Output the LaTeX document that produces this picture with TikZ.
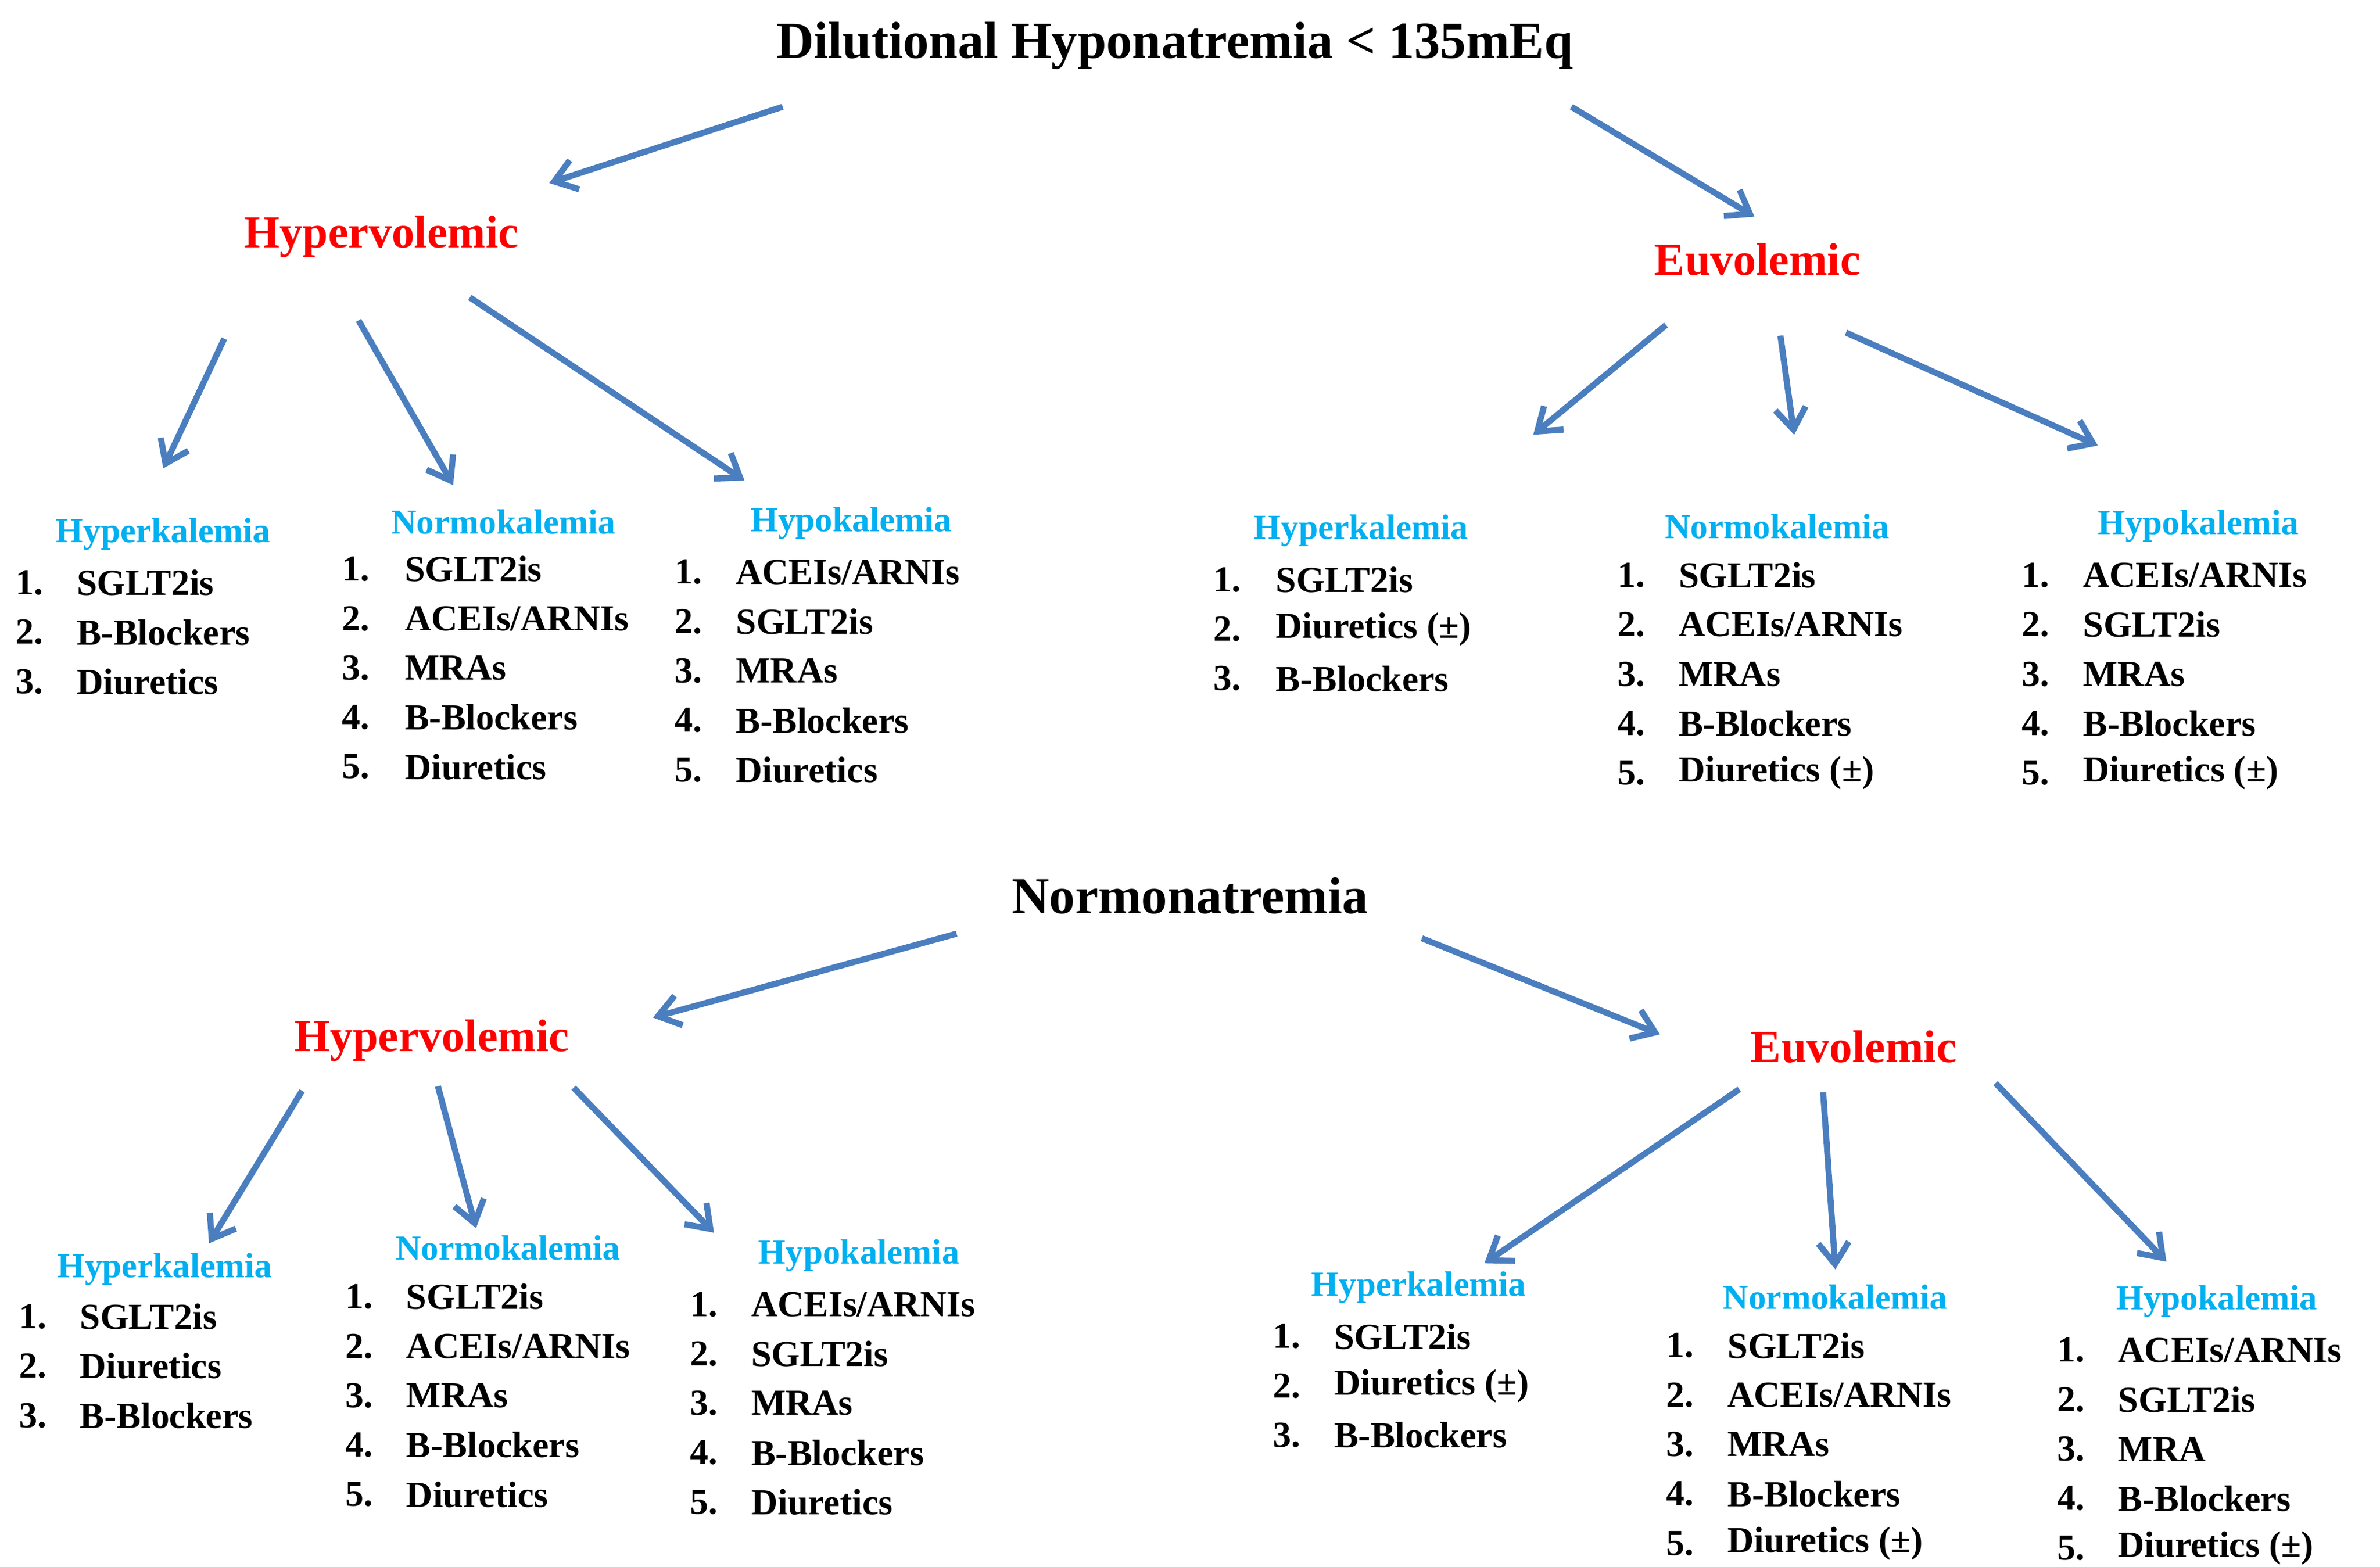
\documentclass[tikz,border=0pt]{standalone}
\usepackage{fontspec}
\setmainfont{Liberation Serif}
\usetikzlibrary{arrows.meta}
\definecolor{arr}{HTML}{4A7EBF}
\definecolor{cy}{HTML}{00B0F0}
\tikzset{
 title/.style={font=\bfseries\fontsize{17}{20}\selectfont},
 vol/.style={font=\bfseries\fontsize{15}{18}\selectfont,text=red},
 kal/.style={font=\bfseries\fontsize{11.5}{14}\selectfont,text=cy},
 item/.style={font=\bfseries\fontsize{12}{14}\selectfont,anchor=west,inner sep=0},
 conn/.style={draw=arr,line width=2pt,-{Straight Barb[length=7pt,width=10pt]}}
}
\newcommand{\mylist}[5]{% name, numx, textx, y0, items
 \foreach \t [count=\i] in {#5}{
  \node[item] (#1n\i) at (#2,{-(#4+(\i-1)*32.4)}) {\i.};
  \node[item] (#1t\i) at (#3,{-(#4+(\i-1)*32.4)}) {\t};
 }}
\newcommand{\myarrow}[5]{%
 \coordinate (#1a) at (#2,-#3); \coordinate (#1b) at (#4,-#5);
 \draw[conn] (#1a) -- (#1b);}
\begin{document}
\begin{tikzpicture}[x=0.5pt,y=0.5pt]
\useasboundingbox (0,0) rectangle (1560,-1027);
% top
\node[title] (t1) at (770,-30) {Dilutional Hyponatremia < 135mEq};
\myarrow{a1}{513}{70}{360}{120}
\myarrow{a2}{1030}{70}{1150}{142}
\node[vol] (hv1) at (250,-155) {Hypervolemic};
\node[vol] (ev1) at (1152,-170) {Euvolemic};
\myarrow{a3}{147}{222}{107}{307}
\myarrow{a4}{235}{210}{297}{318}
\myarrow{a5}{308}{195}{488}{315}
\myarrow{a6}{1092}{213}{1005}{285}
\myarrow{a7}{1167}{220}{1176}{285}
\myarrow{a8}{1210}{218}{1375}{292}
\node[kal] (k1) at (107,-350) {Hyperkalemia};
\node[kal] (k2) at (330,-342) {Normokalemia};
\node[kal] (k3) at (558,-343) {Hypokalemia};
\node[kal] (k4) at (892,-348) {Hyperkalemia};
\node[kal] (k5) at (1165,-345) {Normokalemia};
\node[kal] (k6) at (1441,-345) {Hypokalemia};
\mylist{l1}{10}{50}{382}{SGLT2is,B-Blockers,Diuretics}
\mylist{l2}{224}{265}{373}{SGLT2is,ACEIs/ARNIs,MRAs,B-Blockers,Diuretics}
\mylist{l3}{442}{482}{375}{ACEIs/ARNIs,SGLT2is,MRAs,B-Blockers,Diuretics}
\mylist{l4}{795}{836}{380}{SGLT2is,Diuretics (±),B-Blockers}
\mylist{l5}{1060}{1100}{377}{SGLT2is,ACEIs/ARNIs,MRAs,B-Blockers,Diuretics (±)}
\mylist{l6}{1325}{1365}{377}{ACEIs/ARNIs,SGLT2is,MRAs,B-Blockers,Diuretics (±)}
% bottom
\node[title] (t2) at (780,-587) {Normonatremia};
\myarrow{b1}{627}{612}{428}{667}
\myarrow{b2}{932}{615}{1088}{678}
\node[vol] (hv2) at (283,-682) {Hypervolemic};
\node[vol] (ev2) at (1215,-686) {Euvolemic};
\myarrow{b3}{198}{715}{137}{815}
\myarrow{b4}{287}{712}{312}{805}
\myarrow{b5}{376}{713}{468}{808}
\myarrow{b6}{1140}{714}{973}{828}
\myarrow{b7}{1195}{716}{1203}{832}
\myarrow{b8}{1308}{710}{1420}{827}
\node[kal] (m1) at (108,-832) {Hyperkalemia};
\node[kal] (m2) at (333,-818) {Normokalemia};
\node[kal] (m3) at (563,-823) {Hypokalemia};
\node[kal] (m4) at (930,-844) {Hyperkalemia};
\node[kal] (m5) at (1203,-850) {Normokalemia};
\node[kal] (m6) at (1453,-853) {Hypokalemia};
\mylist{p1}{12}{52}{863}{SGLT2is,Diuretics,B-Blockers}
\mylist{p2}{226}{266}{850}{SGLT2is,ACEIs/ARNIs,MRAs,B-Blockers,Diuretics}
\mylist{p3}{452}{492}{855}{ACEIs/ARNIs,SGLT2is,MRAs,B-Blockers,Diuretics}
\mylist{p4}{834}{874}{876}{SGLT2is,Diuretics (±),B-Blockers}
\mylist{p5}{1092}{1132}{882}{SGLT2is,ACEIs/ARNIs,MRAs,B-Blockers,Diuretics (±)}
\mylist{p6}{1348}{1388}{885}{ACEIs/ARNIs,SGLT2is,MRA,B-Blockers,Diuretics (±)}
\end{tikzpicture}
\end{document}
